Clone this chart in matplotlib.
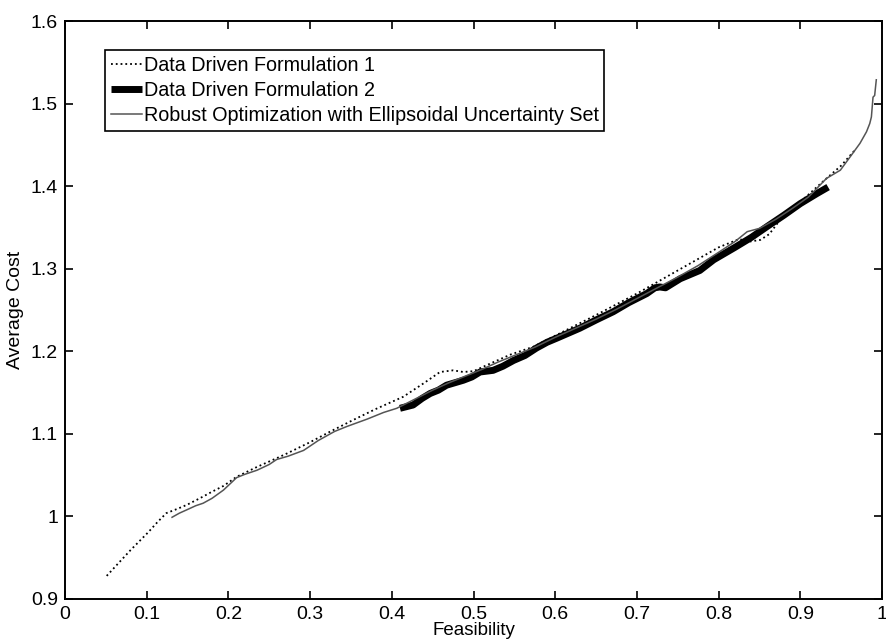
import matplotlib
matplotlib.use("Agg")
import matplotlib.pyplot as plt
from matplotlib.ticker import FuncFormatter

# Data Driven Formulation 1 (dotted)
f1_x = [0.051, 0.065, 0.08, 0.092, 0.102, 0.113, 0.124, 0.137, 0.149, 0.165, 0.18, 0.194,
        0.21, 0.235, 0.26, 0.271, 0.3, 0.325, 0.353, 0.38, 0.414, 0.44, 0.459, 0.475, 0.4875,
        0.5, 0.52, 0.545, 0.573, 0.6, 0.65, 0.7, 0.75, 0.8, 0.825, 0.838, 0.851, 0.862, 0.875,
        0.9, 0.928, 0.95, 0.967]
f1_y = [0.928, 0.943, 0.959, 0.971, 0.981, 0.993, 1.004, 1.009, 1.014, 1.022, 1.03, 1.037,
        1.048, 1.060, 1.071, 1.076, 1.090, 1.103, 1.117, 1.130, 1.145, 1.162, 1.175, 1.177, 1.175,
        1.176, 1.185, 1.196, 1.2055, 1.219, 1.244, 1.27, 1.298, 1.326, 1.336, 1.333, 1.335, 1.342,
        1.359, 1.381, 1.406, 1.425, 1.444]

# Data Driven Formulation 2 (thick)
f2_x = [0.41, 0.426, 0.437, 0.447, 0.457, 0.467, 0.4875, 0.498, 0.508, 0.524, 0.536, 0.549,
        0.563, 0.577, 0.59, 0.602, 0.63, 0.65, 0.671, 0.69, 0.712, 0.722, 0.728, 0.735, 0.753,
        0.777, 0.794, 0.82, 0.84, 0.859, 0.88, 0.90, 0.92, 0.934]
f2_y = [1.131, 1.135, 1.143, 1.149, 1.153, 1.159, 1.165, 1.169, 1.175, 1.177, 1.182, 1.189,
        1.195, 1.204, 1.211, 1.216, 1.228, 1.238, 1.248, 1.259, 1.270, 1.277, 1.278, 1.277, 1.288,
        1.298, 1.311, 1.326, 1.338, 1.351, 1.365, 1.379, 1.391, 1.399]

# Robust Optimization with Ellipsoidal Uncertainty Set (thin)
ro_x = [0.131, 0.14, 0.149, 0.16, 0.169, 0.18, 0.194, 0.21, 0.22, 0.235, 0.25, 0.259, 0.273,
        0.292, 0.31, 0.33, 0.345, 0.37, 0.39, 0.406, 0.43, 0.45, 0.47, 0.49, 0.51, 0.53, 0.55,
        0.575, 0.6, 0.625, 0.65, 0.675, 0.7, 0.725, 0.75, 0.775, 0.8, 0.82, 0.835, 0.85, 0.87,
        0.89, 0.91, 0.932, 0.949, 0.962, 0.973, 0.981, 0.985, 0.987, 0.989, 0.991, 0.993]
ro_y = [0.999, 1.004, 1.008, 1.013, 1.016, 1.022, 1.032, 1.047, 1.051, 1.056, 1.063, 1.069, 1.073,
        1.080, 1.092, 1.103, 1.109, 1.118, 1.126, 1.131, 1.143, 1.153, 1.162, 1.170, 1.178, 1.187,
        1.195, 1.205, 1.217, 1.228, 1.239, 1.251, 1.264, 1.277, 1.290, 1.304, 1.320, 1.333, 1.345,
        1.349, 1.360, 1.373, 1.387, 1.4095, 1.4195, 1.437, 1.452, 1.466, 1.476, 1.484, 1.508,
        1.510, 1.529]

x_ticks = [0, 0.1, 0.2, 0.3, 0.4, 0.5, 0.6, 0.7, 0.8, 0.9, 1]
y_ticks = [0.9, 1, 1.1, 1.2, 1.3, 1.4, 1.5, 1.6]

plt.rcParams['font.family'] = ['Liberation Sans', 'DejaVu Sans']

fig = plt.figure(figsize=(8.86, 6.42), dpi=100)
ax = fig.add_axes([0.0734, 0.067, 0.9221, 0.9])

ax.plot(f1_x, f1_y, linestyle=':', color='black', linewidth=1.3,
        label='Data Driven Formulation 1')
ax.plot(f2_x, f2_y, linestyle='-', color='black', linewidth=5, solid_capstyle='butt',
        label='Data Driven Formulation 2')
ax.plot(ro_x, ro_y, linestyle='-', color='#555555', linewidth=1.1,
        label='Robust Optimization with Ellipsoidal Uncertainty Set')

ax.set_xlim(0, 1)
ax.set_ylim(0.9, 1.6)
ax.set_xticks(x_ticks)
ax.set_yticks(y_ticks)
ax.xaxis.set_major_formatter(FuncFormatter(lambda v, p: '%g' % v))
ax.yaxis.set_major_formatter(FuncFormatter(lambda v, p: '%g' % v))
ax.tick_params(direction='in', length=6, width=1.2, top=True, right=True,
               labelsize=14, pad=5)
for s in ax.spines.values():
    s.set_linewidth(1.4)

ax.set_xlabel('Feasibility', fontsize=13.5, labelpad=-1)
ax.set_ylabel('Average Cost', fontsize=14, labelpad=5)

leg = ax.legend(loc='upper left', bbox_to_anchor=(0.049, 0.95), fontsize=14.2,
                frameon=True, fancybox=False, edgecolor='black', framealpha=1,
                handlelength=1.55, handletextpad=0.1, labelspacing=0.3,
                borderpad=0.3, borderaxespad=0)
leg.get_frame().set_linewidth(1.2)

fig.savefig('out.png', dpi=100)
